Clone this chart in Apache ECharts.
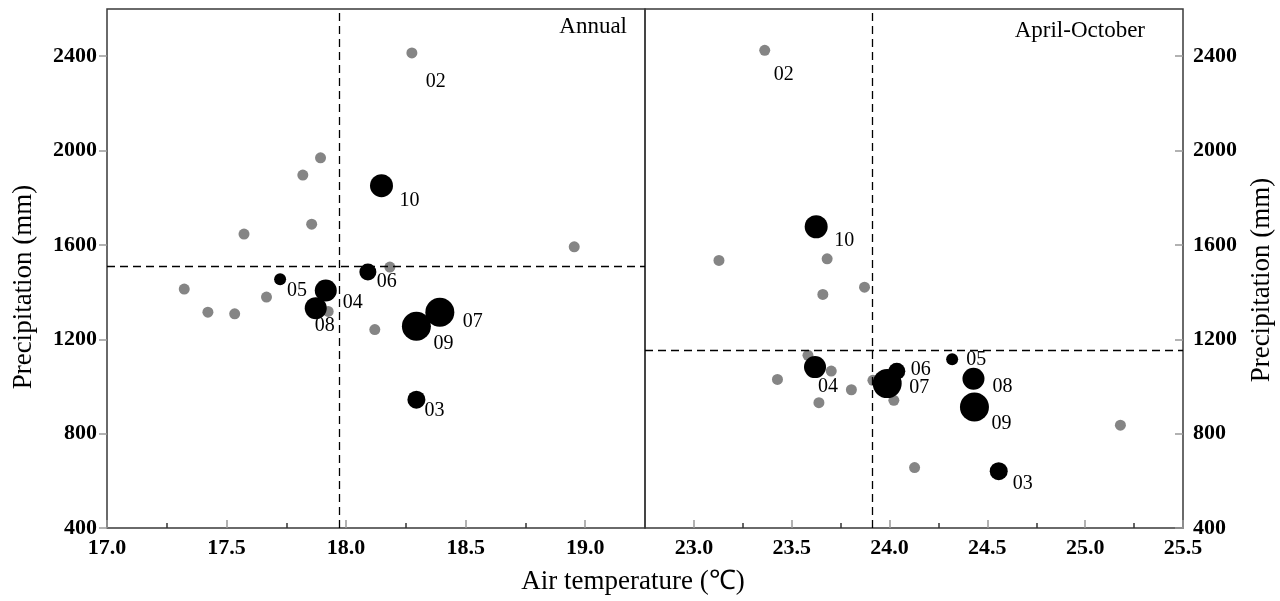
<!DOCTYPE html>
<html><head><meta charset="utf-8">
<script src="https://cdn.jsdelivr.net/npm/echarts@6/dist/echarts.min.js"></script>
<style>html,body{margin:0;padding:0;background:#fff}#chart{width:1280px;height:601px}</style>
</head><body><div id="chart"></div>
<script>
// ---------- data ----------
const stationIds = ['02','03','04','05','06','07','08','09','10'];
const highlightedStations = ['03','04','05','06','07','08','09','10'];

// Annual panel
const annualStationTemp   = [18.275, 18.294, 17.915, 17.724, 18.091, 18.392, 17.873, 18.294, 18.148];
const annualStationPrecip = [2414, 944, 1407, 1454, 1485, 1315, 1332, 1255, 1851];
const annualOtherTemp   = [17.893, 17.819, 17.856, 17.573, 18.954, 18.183, 17.323, 17.667, 17.422, 17.534, 17.925, 18.120];
const annualOtherPrecip = [1969, 1896, 1688, 1646, 1592, 1506, 1413, 1379, 1315, 1308, 1318, 1241];
const annualMeanTemp = 17.97;
const annualMeanPrecip = 1510;

// April-October panel
const aprOctStationTemp   = [23.362, 24.558, 23.619, 24.320, 24.037, 23.988, 24.429, 24.434, 23.625];
const aprOctStationPrecip = [2425, 641, 1082, 1115, 1064, 1012, 1033, 913, 1677];
const aprOctOtherTemp   = [23.128, 23.681, 23.872, 23.659, 23.583, 23.702, 23.427, 23.805, 23.639, 23.915, 24.022, 24.128, 25.180];
const aprOctOtherPrecip = [1534, 1541, 1421, 1390, 1132, 1065, 1030, 986, 931, 1026, 941, 656, 836];
const aprOctMeanTemp = 23.91;
const aprOctMeanPrecip = 1153;

// tick labels
const annualXTicks = [17.0, 17.5, 18.0, 18.5, 19.0];
const annualXMinorTicks = [17.25, 17.75, 18.25, 18.75];
const aprOctXTicks = [23.0, 23.5, 24.0, 24.5, 25.0, 25.5];
const aprOctXMinorTicks = [23.25, 23.75, 24.25, 24.75, 25.25];
const yTicks = [400, 800, 1200, 1600, 2000, 2400];

// ---------- styles ----------
const dotDiameter = {'03':18,'04':22,'05':12,'06':17,'07':29,'08':22,'09':29,'10':23};
const grayDiameter = 11;
const grayColor = '#858585';
const blackColor = '#000';
const annualLabelOffset = {'02':[24,29],'03':[18,11],'04':[27,12],'05':[17,11],'06':[19,10],'07':[33,10],'08':[9,18],'09':[27,17],'10':[28,15]};
const aprOctLabelOffset = {'02':[19,24],'03':[24,13],'04':[13,20],'05':[24,0],'06':[24,-2],'07':[32,4],'08':[29,8],'09':[27,17],'10':[28,14]};
const SERIF = '"Liberation Serif", "Times New Roman", serif';

function stationItems(temps, precs, offsets) {
  return stationIds.map((id, i) => {
    const hi = highlightedStations.indexOf(id) >= 0;
    return {
      name: id,
      value: [temps[i], precs[i]],
      symbolSize: hi ? dotDiameter[id] : grayDiameter,
      itemStyle: { color: hi ? blackColor : grayColor, opacity: 1 },
      label: { show: true, formatter: id, position: 'inside', offset: offsets[id],
               fontFamily: SERIF, fontSize: 20, color: '#000', opacity: 1 }
    };
  });
}
function pairs(xs, ys) { return xs.map((x, i) => [x, ys[i]]); }

function mainX(grid, min, max, ticks) {
  return {
    type: 'value', gridIndex: grid, position: 'bottom', min: min, max: max,
    axisLine: { show: false }, splitLine: { show: false },
    axisTick: { show: true, inside: true, length: 8, customValues: ticks, lineStyle: { color: '#999', width: 1.5 } },
    axisLabel: { show: true, customValues: ticks, margin: 9, formatter: v => Number(v).toFixed(1),
                 fontFamily: SERIF, fontWeight: 'bold', fontSize: 22, color: '#000' }
  };
}
function minorX(grid, min, max, ticks) {
  return {
    type: 'value', gridIndex: grid, position: 'bottom', min: min, max: max,
    axisLine: { show: false }, splitLine: { show: false },
    axisTick: { show: true, inside: true, length: 5, customValues: ticks, lineStyle: { color: '#333', width: 1.5 } },
    axisLabel: { show: false }
  };
}
function yAx(grid, pos, inside) {
  return {
    type: 'value', gridIndex: grid, position: pos, min: 400, max: 2600, interval: 400,
    axisLine: { show: false }, splitLine: { show: false },
    axisTick: { show: true, inside: inside, length: 8, customValues: yTicks, lineStyle: { color: '#999', width: 1.5 } },
    axisLabel: { show: true, customValues: yTicks, margin: 10, formatter: v => String(Math.round(v)),
                 fontFamily: SERIF, fontWeight: 'bold', fontSize: 22, color: '#000' }
  };
}
function meanLines(xIdx, yIdx, mx, my) {
  return {
    type: 'scatter', xAxisIndex: xIdx, yAxisIndex: yIdx, data: [], z: 1, silent: true,
    markLine: {
      silent: true, symbol: ['none', 'none'], animation: false,
      label: { show: false },
      lineStyle: { type: [8, 5], color: '#000', width: 1.3, opacity: 1 },
      data: [{ xAxis: mx }, { yAxis: my }]
    }
  };
}

const chart = echarts.init(document.getElementById('chart'));
chart.setOption({
  animation: false,
  backgroundColor: '#fff',
  grid: [
    { left: 107, top: 9, width: 538, height: 519, show: true, borderColor: '#3a3a3a', borderWidth: 1.5 },
    { left: 645, top: 9, width: 538, height: 519, show: true, borderColor: '#3a3a3a', borderWidth: 1.5 }
  ],
  xAxis: [
    mainX(0, 17, 19.25, annualXTicks),
    mainX(1, 22.75, 25.5, aprOctXTicks),
    minorX(0, 17, 19.25, annualXMinorTicks),
    minorX(1, 22.75, 25.5, aprOctXMinorTicks)
  ],
  yAxis: [ yAx(0, 'left', false), yAx(1, 'right', true) ],
  series: [
    meanLines(0, 0, annualMeanTemp, annualMeanPrecip),
    meanLines(1, 1, aprOctMeanTemp, aprOctMeanPrecip),
    { type: 'scatter', xAxisIndex: 0, yAxisIndex: 0, z: 3, symbolSize: grayDiameter,
      itemStyle: { color: grayColor, opacity: 1 }, data: pairs(annualOtherTemp, annualOtherPrecip) },
    { type: 'scatter', xAxisIndex: 0, yAxisIndex: 0, z: 4,
      data: stationItems(annualStationTemp, annualStationPrecip, annualLabelOffset) },
    { type: 'scatter', xAxisIndex: 1, yAxisIndex: 1, z: 3, symbolSize: grayDiameter,
      itemStyle: { color: grayColor, opacity: 1 }, data: pairs(aprOctOtherTemp, aprOctOtherPrecip) },
    { type: 'scatter', xAxisIndex: 1, yAxisIndex: 1, z: 4,
      data: stationItems(aprOctStationTemp, aprOctStationPrecip, aprOctLabelOffset) }
  ],
  graphic: [
    { type: 'text', x: 627, y: 27, silent: true,
      style: { text: 'Annual', font: '23px ' + SERIF, fill: '#000', align: 'right', verticalAlign: 'middle' } },
    { type: 'text', x: 1145, y: 31, silent: true,
      style: { text: 'April-October', font: '23px ' + SERIF, fill: '#000', align: 'right', verticalAlign: 'middle' } },
    { type: 'text', x: 633, y: 582, silent: true,
      style: { text: 'Air temperature (\u2103)', font: '27px ' + SERIF, fill: '#000', align: 'center', verticalAlign: 'middle' } },
    { type: 'text', x: 24, y: 287, rotation: Math.PI / 2, silent: true,
      style: { text: 'Precipitation (mm)', font: '27px ' + SERIF, fill: '#000', align: 'center', verticalAlign: 'middle' } },
    { type: 'text', x: 1262, y: 280, rotation: Math.PI / 2, silent: true,
      style: { text: 'Precipitation (mm)', font: '27px ' + SERIF, fill: '#000', align: 'center', verticalAlign: 'middle' } }
  ]
});
</script></body></html>
